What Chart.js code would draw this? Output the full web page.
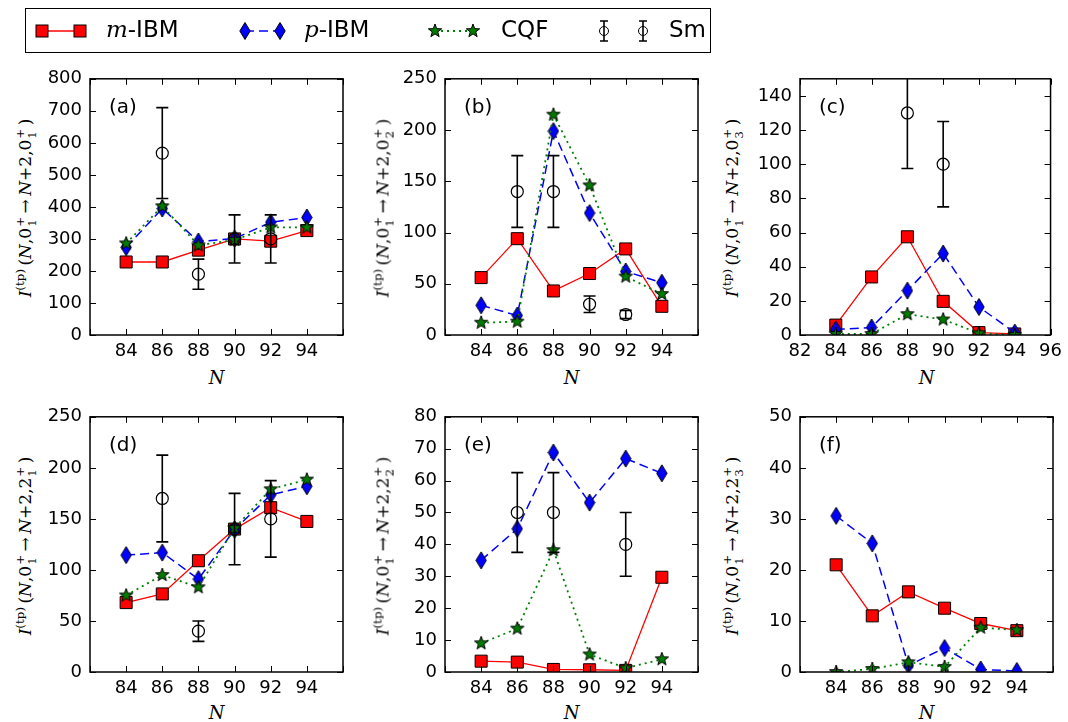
<!DOCTYPE html>
<html>
<head>
<meta charset="utf-8">
<script src="https://cdn.jsdelivr.net/npm/chart.js@4.4.0/dist/chart.umd.min.js"></script>
<style>
    body { margin: 0; background: #fff; width: 1068px; height: 722px; position: relative; overflow: hidden; font-family: "DejaVu Sans", sans-serif; }
    canvas { position: absolute; }
    .ylab { position: absolute; transform: translate(-50%, -50%) rotate(-90deg); white-space: nowrap; font-family: "DejaVu Serif", serif; font-size: 17px; color: #000; }
    .ylab sup.tp { font-size: 0.7em; vertical-align: 0.6em; }
    .ss { display: inline-flex; flex-direction: column; font-size: 0.7em; line-height: 0.95; vertical-align: middle; margin-left: 1px; }
    .xlab { position: absolute; transform: translate(-50%, -50%); font-family: "DejaVu Serif", serif; font-style: italic; font-size: 18px; line-height: 1; }
    .plab { position: absolute; font-size: 20px; line-height: 20px; }
    #legend { position: absolute; left: 25px; top: 8px; width: 686px; height: 45px; border: 1px solid #000; box-sizing: border-box; }
    .ltxt { position: absolute; top: 7px; font-size: 23px; line-height: 26px; white-space: nowrap; }
    .ltxt i { font-family: "DejaVu Serif", serif; }
</style>
</head>
<body>
<div id="legend"><canvas id="legendIcons" width="684" height="43" style="left:0;top:0"></canvas>
    <span class="ltxt" style="left:80px"><i>m</i>-IBM</span>
    <span class="ltxt" style="left:278px"><i>p</i>-IBM</span>
    <span class="ltxt" style="left:475px">CQF</span>
    <span class="ltxt" style="left:643px">Sm</span>
</div>
<script>
// x values (neutron number)
const N = [84, 86, 88, 90, 92, 94];

// (a) 0+ -> 0_1+
const mA = [228, 228, 265, 300, 293, 326];
const pA = [274, 395, 292, 301, 352, 367];
const cA = [286, 402, 280, 297, 336, 336];
const smNA = [86, 88, 90, 92];
const smA = [568, 190, 300, 300];
const smErrA = [142, 47, 75, 75];

// (b) 0+ -> 0_2+
const mB = [56, 94, 43, 60, 84, 28];
const pB = [29, 19, 199, 119, 62, 51];
const cB = [12, 13, 215, 146, 57, 40];
const smNB = [86, 88, 90, 92];
const smB = [140, 140, 30, 20];
const smErrB = [35, 35, 8, 4];

// (c) 0+ -> 0_3+
const mC = [5.8, 34, 57.5, 19.7, 1.4, 0.6];
const pC = [3.3, 4.4, 26, 47.7, 16.4, 1.4];
const cC = [0.6, 0.6, 12.2, 9.1, 1, 0];
const smNC = [88, 90];
const smC = [130, 100];
const smErrC = [32.5, 25];

// (d) 0+ -> 2_1+
const mD = [68, 76.5, 109, 140, 161, 147.5];
const pD = [114.5, 117, 91, 139.5, 173.5, 182];
const cD = [75, 95, 83, 141, 179, 188.5];
const smND = [86, 88, 90, 92];
const smD = [170, 40, 140, 150];
const smErrD = [42.5, 10, 35, 37.5];

// (e) 0+ -> 2_2+
const mE = [3.4, 3.1, 0.8, 0.7, 0.5, 29.7];
const pE = [35, 44.9, 68.8, 53.1, 66.9, 62.3];
const cE = [9, 13.6, 38.2, 5.5, 1.2, 4];
const smNE = [86, 88, 92];
const smE = [50, 50, 40];
const smErrE = [12.5, 12.5, 10];

// (f) 0+ -> 2_3+
const mF = [21, 11, 15.7, 12.5, 9.5, 8.1];
const pF = [30.6, 25.2, 1.3, 4.7, 0.5, 0.2];
const cF = [0, 0.6, 1.9, 1, 8.7, 8.2];

// axis ranges
const xMin = 82, xMax = 96, xStep = 2;
const yMaxes = [800, 250, 150, 250, 80, 50];
const ySteps = [100, 50, 20, 50, 10, 10];
const panelNames = ['(a)', '(b)', '(c)', '(d)', '(e)', '(f)'];
const finalStates = [['0', '1'], ['0', '2'], ['0', '3'], ['2', '1'], ['2', '2'], ['2', '3']];

// layout
const colLeft = [90, 445, 800], colW = 253;
const rowTop = [75, 413], rowH = [260, 259];
const ylabX = [25, 383, 732];
const xlabY = [378, 713];

// marker drawing
function drawSquare(ctx, x, y) {
    ctx.fillStyle = '#ff0000'; ctx.strokeStyle = '#000'; ctx.lineWidth = 1;
    ctx.fillRect(x - 6, y - 6, 12, 12);
    ctx.strokeRect(x - 6, y - 6, 12, 12);
}
function drawDiamond(ctx, x, y) {
    ctx.fillStyle = '#0000ff'; ctx.strokeStyle = '#000'; ctx.lineWidth = 1;
    ctx.beginPath();
    ctx.moveTo(x, y - 8.5); ctx.lineTo(x + 5.2, y); ctx.lineTo(x, y + 8.5); ctx.lineTo(x - 5.2, y);
    ctx.closePath(); ctx.fill(); ctx.stroke();
}
function drawStar(ctx, x, y) {
    ctx.fillStyle = '#007a00'; ctx.strokeStyle = '#000'; ctx.lineWidth = 1;
    ctx.beginPath();
    for (let i = 0; i < 10; i++) {
        const r = i % 2 ? 2.9 : 7;
        const a = -Math.PI / 2 + i * Math.PI / 5;
        ctx.lineTo(x + r * Math.cos(a), y + r * Math.sin(a));
    }
    ctx.closePath(); ctx.fill(); ctx.stroke();
}
function markerImage(fn, w, h) {
    const c = document.createElement('canvas');
    c.width = w; c.height = h;
    fn(c.getContext('2d'), w / 2, h / 2);
    return c;
}
const diamondImg = markerImage(drawDiamond, 12, 19);
const starImg = markerImage(drawStar, 16, 16);

const errorBars = {
    id: 'errorBars',
    afterDatasetsDraw(chart) {
        const { ctx, chartArea: a, scales: { x, y } } = chart;
        ctx.save();
        ctx.beginPath(); ctx.rect(a.left, a.top, a.right - a.left, a.bottom - a.top); ctx.clip();
        ctx.strokeStyle = '#000'; ctx.lineWidth = 1.6;
        ctx.beginPath();
        chart.data.datasets.forEach(ds => {
            if (!ds.errors) return;
            ds.data.forEach((p, i) => {
                const px = x.getPixelForValue(p.x);
                const top = y.getPixelForValue(p.y + ds.errors[i]);
                const bot = y.getPixelForValue(p.y - ds.errors[i]);
                ctx.moveTo(px, top); ctx.lineTo(px, bot);
                ctx.moveTo(px - 6, top); ctx.lineTo(px + 6, top);
                ctx.moveTo(px - 6, bot); ctx.lineTo(px + 6, bot);
            });
        });
        ctx.stroke();
        ctx.restore();
    }
};

const axesBox = {
    id: 'axesBox',
    afterDraw(chart) {
        const { ctx, chartArea: a, scales: { x, y } } = chart;
        ctx.save();
        ctx.strokeStyle = '#000'; ctx.lineWidth = 1;
        ctx.beginPath();
        x.ticks.forEach(t => {
            const px = Math.round(x.getPixelForValue(t.value)) + 0.5;
            ctx.moveTo(px, a.bottom); ctx.lineTo(px, a.bottom - 6);
            ctx.moveTo(px, a.top); ctx.lineTo(px, a.top + 6);
        });
        y.ticks.forEach(t => {
            const py = Math.round(y.getPixelForValue(t.value)) + 0.5;
            ctx.moveTo(a.left, py); ctx.lineTo(a.left + 6, py);
            ctx.moveTo(a.right, py); ctx.lineTo(a.right - 6, py);
        });
        ctx.stroke();
        ctx.lineWidth = 1.5;
        ctx.strokeRect(a.left, a.top, a.right - a.left, a.bottom - a.top);
        ctx.restore();
    }
};

const tickFont = { family: 'DejaVu Sans', size: 18 };
const pts = arr => arr.map((v, i) => ({ x: N[i], y: v }));
const ptsAt = (xs, arr) => arr.map((v, i) => ({ x: xs[i], y: v }));

// regular ticks from min to max in steps (no extra tick at a max that is not a multiple)
function stepTicks(min, max, step) {
    const out = [];
    for (let v = min; v <= max + 1e-9; v += step) out.push({ value: v });
    return out;
}

function makePanel(idx, m, p, c, smN, sm, smErr) {
    const col = idx % 3, row = Math.floor(idx / 3);
    const L = colLeft[col], T = rowTop[row], W = colW, H = rowH[row];
    const canvas = document.createElement('canvas');
    canvas.width = W + 65; canvas.height = H + 45;
    canvas.style.left = (L - 50) + 'px'; canvas.style.top = (T - 15) + 'px';
    document.body.appendChild(canvas);

    const datasets = [
        { data: pts(m), borderColor: '#ff0000', borderWidth: 1.3, pointStyle: 'rect', pointRadius: 8.5,
          pointBackgroundColor: '#ff0000', pointBorderColor: '#000', pointBorderWidth: 1, order: 4, clip: 0 },
        { data: pts(p), borderColor: '#0000ff', borderWidth: 1.5, borderDash: [9, 5], pointStyle: diamondImg,
          order: 3, clip: 0 },
        { data: pts(c), borderColor: '#008000', borderWidth: 1.8, borderDash: [2, 4], pointStyle: starImg,
          order: 2, clip: 0 }
    ];
    if (sm) {
        datasets.push({ data: ptsAt(smN, sm), errors: smErr, showLine: false, pointStyle: 'circle', pointRadius: 6,
            pointBackgroundColor: 'rgba(0,0,0,0)', pointBorderColor: '#000', pointBorderWidth: 1.2, order: 1, clip: 0 });
    }
    const showEdge = idx === 2;
    const yStep = ySteps[idx], yMax = yMaxes[idx];

    new Chart(canvas, {
        type: 'line',
        data: { datasets },
        options: {
            responsive: false, animation: false, maintainAspectRatio: false,
            layout: { padding: { top: 15, right: 15, left: 0, bottom: 0 } },
            plugins: { legend: { display: false }, tooltip: { enabled: false } },
            elements: { line: { tension: 0, fill: false } },
            scales: {
                x: {
                    type: 'linear', min: xMin, max: xMax,
                    ticks: { stepSize: xStep, autoSkip: false, maxRotation: 0, padding: 6, color: '#000', font: tickFont,
                             callback: v => (showEdge || (v > xMin && v < xMax)) ? String(v) : '' },
                    afterBuildTicks: s => { s.ticks = stepTicks(xMin, xMax, xStep); },
                    grid: { drawOnChartArea: false, drawTicks: false, color: 'rgba(0,0,0,0)' },
                    border: { display: false },
                    afterFit: s => { s.height = 30; }
                },
                y: {
                    type: 'linear', min: 0, max: yMax,
                    ticks: { stepSize: yStep, autoSkip: false, padding: 8, color: '#000', font: tickFont,
                             callback: v => String(v) },
                    afterBuildTicks: s => { s.ticks = stepTicks(0, yMax, yStep); },
                    grid: { drawOnChartArea: false, drawTicks: false, color: 'rgba(0,0,0,0)' },
                    border: { display: false },
                    afterFit: s => { s.width = 50; }
                }
            }
        },
        plugins: [errorBars, axesBox]
    });

    // labels
    const fs = finalStates[idx];
    const yl = document.createElement('div');
    yl.className = 'ylab';
    yl.innerHTML = '<i>I</i><sup class="tp">(tp)</sup>\u2009(<i>N</i>,0<span class="ss"><span>+</span><span>1</span></span>\u2009\u2192\u2009<i>N</i>+2,' +
        fs[0] + '<span class="ss"><span>+</span><span>' + fs[1] + '</span></span>\u2009)';
    yl.style.left = ylabX[col] + 'px';
    yl.style.top = (T + H / 2 + 3) + 'px';
    document.body.appendChild(yl);

    const xl = document.createElement('div');
    xl.className = 'xlab'; xl.textContent = 'N';
    xl.style.left = (L + W / 2) + 'px'; xl.style.top = xlabY[row] + 'px';
    document.body.appendChild(xl);

    const pl = document.createElement('div');
    pl.className = 'plab'; pl.textContent = panelNames[idx];
    pl.style.left = (L + 19) + 'px'; pl.style.top = (T + 21) + 'px';
    document.body.appendChild(pl);
}

makePanel(0, mA, pA, cA, smNA, smA, smErrA);
makePanel(1, mB, pB, cB, smNB, smB, smErrB);
makePanel(2, mC, pC, cC, smNC, smC, smErrC);
makePanel(3, mD, pD, cD, smND, smD, smErrD);
makePanel(4, mE, pE, cE, smNE, smE, smErrE);
makePanel(5, mF, pF, cF, null, null, null);

// legend icons
(function () {
    const ctx = document.getElementById('legendIcons').getContext('2d');
    const cy = 22;
    ctx.lineWidth = 1.3; ctx.strokeStyle = '#ff0000';
    ctx.beginPath(); ctx.moveTo(16, cy); ctx.lineTo(54, cy); ctx.stroke();
    drawSquare(ctx, 16, cy); drawSquare(ctx, 54, cy);
    ctx.lineWidth = 1.5; ctx.strokeStyle = '#0000ff'; ctx.setLineDash([9, 5]);
    ctx.beginPath(); ctx.moveTo(219, cy); ctx.lineTo(254, cy); ctx.stroke();
    ctx.setLineDash([2, 4]); ctx.lineWidth = 1.8; ctx.strokeStyle = '#008000';
    ctx.beginPath(); ctx.moveTo(409, cy); ctx.lineTo(447, cy); ctx.stroke();
    ctx.setLineDash([]);
    drawDiamond(ctx, 219, cy); drawDiamond(ctx, 254, cy);
    drawStar(ctx, 409, cy); drawStar(ctx, 447, cy);
    [578, 617].forEach(x => {
        ctx.strokeStyle = '#000'; ctx.lineWidth = 1.6;
        ctx.beginPath();
        ctx.moveTo(x, cy - 10); ctx.lineTo(x, cy + 10);
        ctx.moveTo(x - 4, cy - 10); ctx.lineTo(x + 4, cy - 10);
        ctx.moveTo(x - 4, cy + 10); ctx.lineTo(x + 4, cy + 10);
        ctx.stroke();
        ctx.lineWidth = 1;
        ctx.beginPath(); ctx.arc(x, cy, 4.5, 0, Math.PI * 2); ctx.stroke();
    });
})();
</script>
</body>
</html>
